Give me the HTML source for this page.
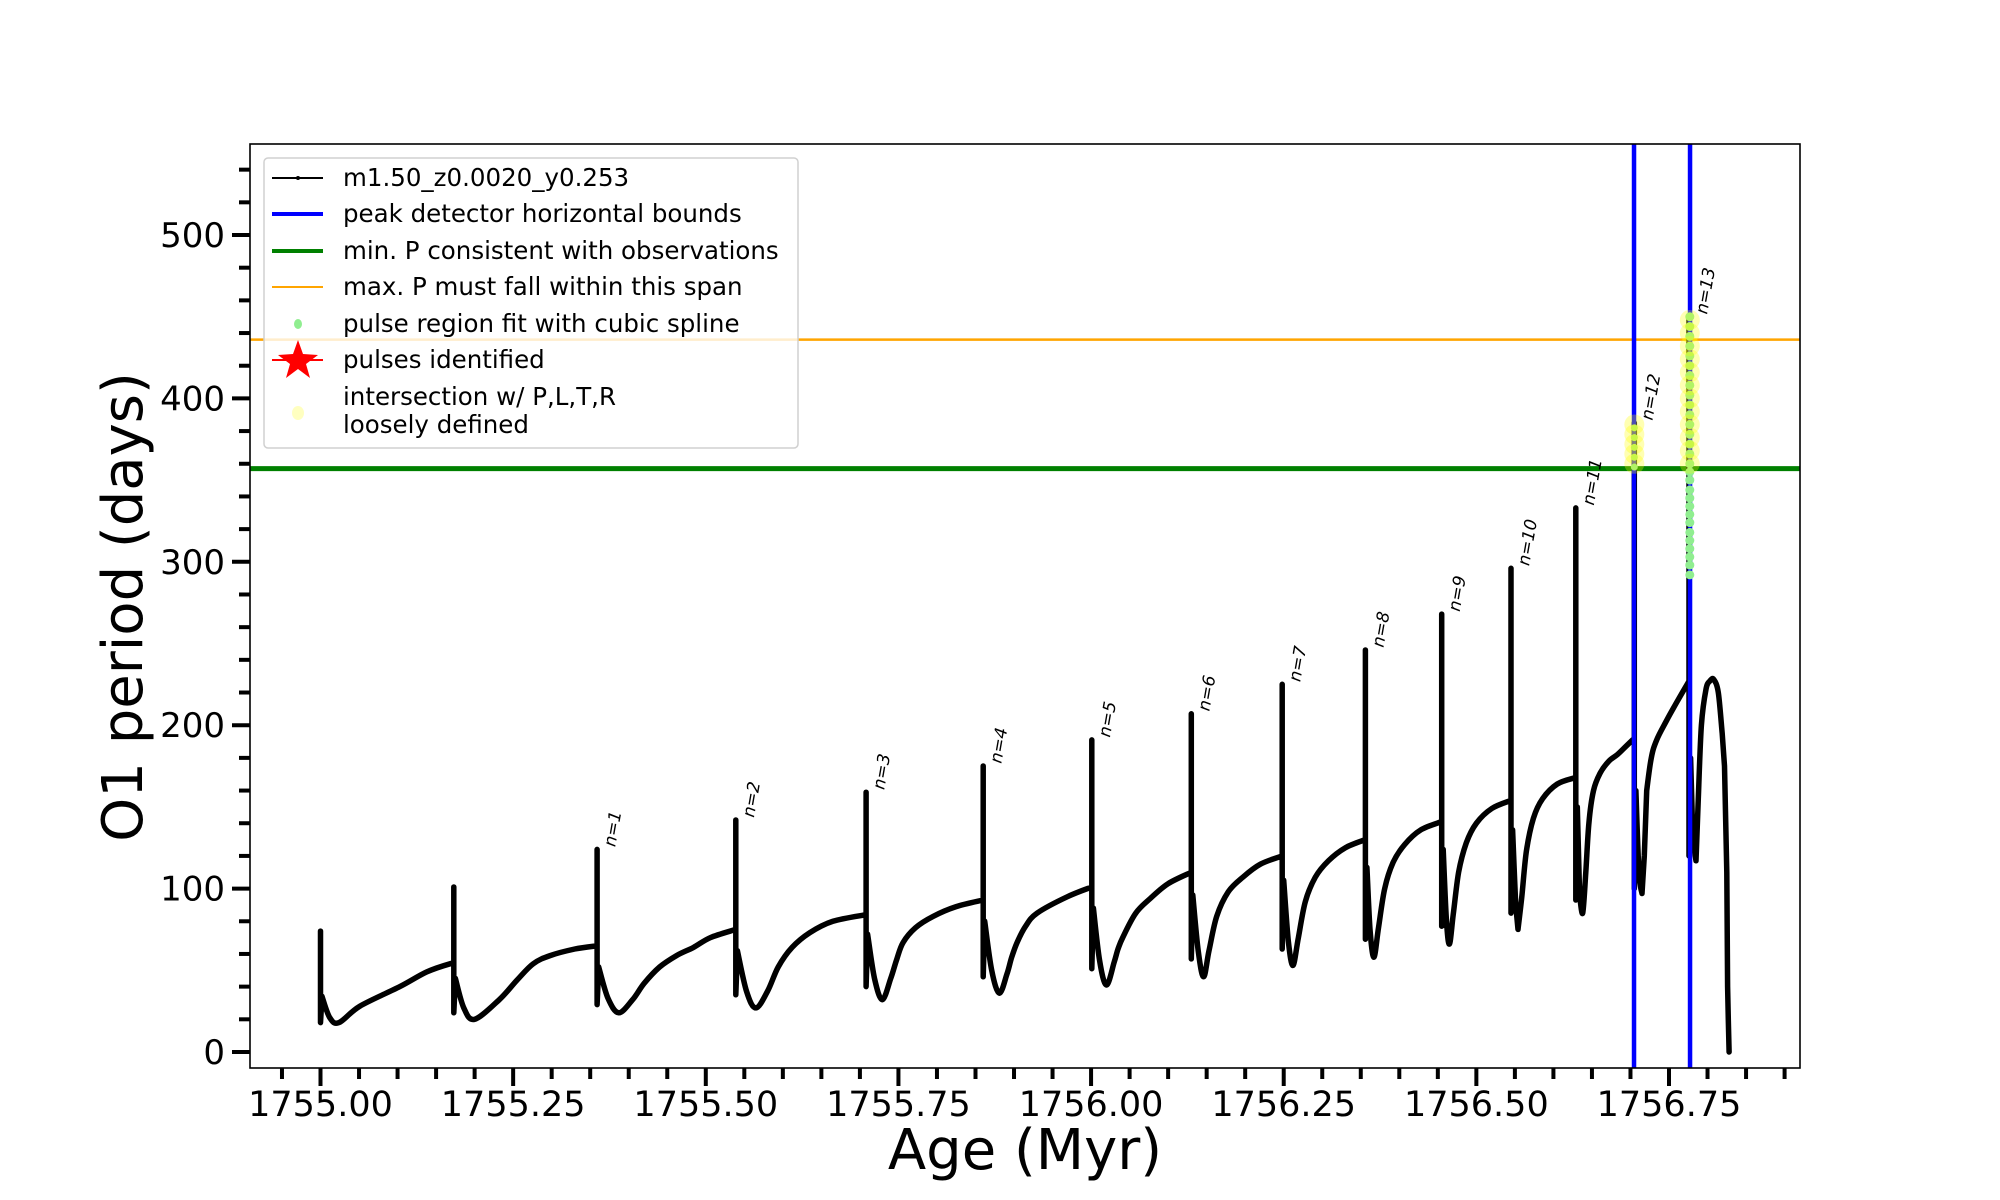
<!DOCTYPE html>
<html><head><meta charset="utf-8"><style>
html,body{margin:0;padding:0;background:#fff;}
svg{display:block;font-family:"DejaVu Sans","Liberation Sans",sans-serif;}
</style></head><body>
<svg id="chart" width="2000" height="1200" viewBox="0 0 2000 1200">
<rect width="2000" height="1200" fill="#fff"/>
<g id="plot"></g>
</svg>
<script>
// ---- data ----
const ages = [
1755.000,1755.000,1755.000,1755.002,1755.012,1755.024,1755.051,1755.103,1755.138,1755.168,1755.173,
1755.173,1755.173,1755.175,1755.186,1755.200,1755.232,1755.255,1755.276,1755.298,1755.330,1755.359,
1755.359,1755.359,1755.361,1755.373,1755.387,1755.405,1755.420,1755.440,1755.462,1755.484,1755.506,1755.539,
1755.539,1755.539,1755.541,1755.553,1755.565,1755.580,1755.594,1755.612,1755.635,1755.665,1755.708,
1755.708,1755.708,1755.710,1755.719,1755.729,1755.740,1755.748,1755.756,1755.772,1755.795,1755.825,1755.860,
1755.860,1755.860,1755.862,1755.871,1755.881,1755.891,1755.897,1755.904,1755.915,1755.930,1755.969,1756.001,
1756.001,1756.001,1756.003,1756.011,1756.020,1756.030,1756.035,1756.041,1756.058,1756.077,1756.100,1756.130,
1756.130,1756.130,1756.132,1756.139,1756.146,1756.153,1756.163,1756.178,1756.197,1756.220,1756.248,
1756.248,1756.248,1756.250,1756.256,1756.262,1756.269,1756.278,1756.291,1756.308,1756.330,1756.356,
1756.356,1756.356,1756.358,1756.362,1756.367,1756.373,1756.381,1756.392,1756.407,1756.428,1756.455,
1756.455,1756.455,1756.457,1756.461,1756.465,1756.470,1756.477,1756.487,1756.500,1756.520,1756.545,
1756.545,1756.545,1756.547,1756.551,1756.554,1756.559,1756.565,1756.574,1756.586,1756.605,1756.629,
1756.629,1756.629,1756.631,1756.634,1756.638,1756.642,1756.646,1756.652,1756.661,1756.672,1756.683,1756.694,1756.705,
1756.705,1756.705,1756.707,1756.711,1756.715,1756.718,1756.721,1756.727,1756.734,1756.747,1756.760,1756.776,
1756.776,1756.776,1756.778,1756.781,1756.785,1756.788,1756.792,1756.798,1756.803,1756.808,1756.814,1756.819,1756.822,1756.825,1756.826,1756.827,1756.828
];
const periods = [
40,74,18,34,21,18,28,40,49,54,54,
101,24,45,27,20,32,44,54,59,63,65,
124,29,52,33,24,32,42,52,59,64,70,75,
142,35,62,37,27,37,52,64,73,80,84,
159,40,72,45,32,45,57,67,76,83,89,93,
175,46,80,50,36,48,58,67,77,85,95,101,
191,51,88,56,41,55,63,70,85,94,103,110,
207,57,96,62,46,62,83,98,107,115,120,
225,63,105,68,53,70,92,107,117,125,130,
246,69,113,75,58,76,100,116,127,136,141,
268,77,124,82,66,84,110,128,140,149,154,
296,85,136,90,75,95,123,143,155,164,168,
333,93,150,96,85,110,140,160,171,178,182,187,192,
385,100,160,110,97,120,160,180,191,203,214,227,
450,120,180,130,117,155,200,222,227,228,220,195,175,110,40,20,0
];
const boundAges = [1756.7046, 1756.7773];
const minPeriod = [357];
const maxPeriod = [436];
const pulseLabels = ["n=1","n=2","n=3","n=4","n=5","n=6","n=7","n=8","n=9","n=10","n=11","n=12","n=13"];
const pulseAges = [1755.359,1755.539,1755.708,1755.860,1756.001,1756.130,1756.248,1756.356,1756.455,1756.545,1756.629,1756.705,1756.776];
const pulsePeaks = [124,142,159,175,191,207,225,246,268,296,333,385,450];
const splineAges12 = [1756.705];
const splineVals12 = [358,364,370,376,382];
const splineAges13 = [1756.777];
const splineVals13 = [292,298,303,308,313,318,324,329,334,339,344,350,355,360,366,372,378,384,390,396,402,408,414,420,426,432,438,444,450];
const yellowVals12 = [360,366,372,378,384];
const yellowVals13 = [360,368,376,384,392,400,408,416,424,432,440,448];
const xMajorTicks = [1755.00,1755.25,1755.50,1755.75,1756.00,1756.25,1756.50,1756.75];
const xMajorLabels = ["1755.00","1755.25","1755.50","1755.75","1756.00","1756.25","1756.50","1756.75"];
const yMajorTicks = [0,100,200,300,400,500];
const yMajorLabels = ["0","100","200","300","400","500"];

// ---- axes ----
const L=250,R=1800,T=144,B=1068;
const X0=1754.9085,X1=1756.920,Y0=-9.8,Y1=555.7;
const sx=v=>L+(v-X0)/(X1-X0)*(R-L);
const sy=v=>B-(v-Y0)/(Y1-Y0)*(B-T);
const NS="http://www.w3.org/2000/svg";
const g=document.getElementById('plot');
function mk(tag,attrs,parent){const e=document.createElementNS(NS,tag);for(const k in attrs)e.setAttribute(k,attrs[k]);(parent||g).appendChild(e);return e;}

// horizontal reference lines
minPeriod.forEach(v=>{const e=mk('line',{x1:L,x2:R,y1:sy(v),y2:sy(v),stroke:'#008000','stroke-width':5});

});
maxPeriod.forEach(v=>{const e=mk('line',{x1:L,x2:R,y1:sy(v),y2:sy(v),stroke:'#ffa500','stroke-width':2.5});

});

// main curve (smoothed, vertical spikes kept straight)
const P=ages.map((a,i)=>[sx(a),sy(periods[i])]);
const vert=i=>Math.abs(P[i+1][0]-P[i][0])<3;
let d='M'+P[0][0].toFixed(1)+' '+P[0][1].toFixed(1);
for(let i=0;i<P.length-1;i++){
  const p1=P[i],p2=P[i+1];
  if(vert(i)){d+='L'+p2[0].toFixed(1)+' '+p2[1].toFixed(1);continue;}
  const p0=(i>0&&!vert(i-1))?P[i-1]:p1;
  const p3=(i+2<P.length&&!vert(i+1))?P[i+2]:p2;
  const c1=[p1[0]+(p2[0]-p0[0])/6,p1[1]+(p2[1]-p0[1])/6];
  const c2=[p2[0]-(p3[0]-p1[0])/6,p2[1]-(p3[1]-p1[1])/6];
  d+='C'+c1[0].toFixed(1)+' '+c1[1].toFixed(1)+' '+c2[0].toFixed(1)+' '+c2[1].toFixed(1)+' '+p2[0].toFixed(1)+' '+p2[1].toFixed(1);
}
const curve=mk('path',{d:d,fill:'none',stroke:'#000','stroke-width':5.5,'stroke-linejoin':'round','stroke-linecap':'round'});



// blue bounds
boundAges.forEach((a,i)=>{const e=mk('line',{x1:sx(a),x2:sx(a),y1:T,y2:B,stroke:'#0000ff','stroke-width':4.5});

});

// spline dots and yellow circles
splineVals12.forEach(v=>{const e=mk('circle',{cx:sx(splineAges12[0]),cy:sy(v),r:3.5,fill:'#90ee90'});

});
splineVals13.forEach(v=>{const e=mk('circle',{cx:sx(splineAges13[0]),cy:sy(v),r:4.5,fill:'#90ee90'});

});
yellowVals12.forEach(v=>{const e=mk('circle',{cx:sx(splineAges12[0]),cy:sy(v),r:10,fill:'#ffff00','fill-opacity':0.3});

});
yellowVals13.forEach(v=>{const e=mk('circle',{cx:sx(splineAges13[0]),cy:sy(v),r:10,fill:'#ffff00','fill-opacity':0.3});

});

// pulse labels
pulseLabels.forEach((t,i)=>{const x=sx(pulseAges[i])+18,y=sy(pulsePeaks[i])-2;
const e=mk('text',{x:0,y:0,transform:`translate(${x},${y}) rotate(-80)`,'font-size':17,'font-style':'italic',fill:'#000'});
e.textContent=t;

});

// frame
const fr=mk('rect',{x:L,y:T,width:R-L,height:B-T,fill:'none',stroke:'#000','stroke-width':1.6});



// x ticks
for(let k=-1;k<=39;k++){const v=1755+k*0.05;if(v>X1)break;const major=(k%5===0);
const e=mk('line',{x1:sx(v),x2:sx(v),y1:B,y2:B+(major?18:11),stroke:'#000','stroke-width':4});

}
xMajorTicks.forEach((v,i)=>{const e=mk('text',{x:sx(v),y:1116,'font-size':35,'text-anchor':'middle',fill:'#000'});
e.textContent=xMajorLabels[i];

});
// y ticks
for(let v=0;v<=540;v+=20){const major=(v%100===0);
const e=mk('line',{x1:L-(major?18:11),x2:L,y1:sy(v),y2:sy(v),stroke:'#000','stroke-width':4});

}
yMajorTicks.forEach((v,i)=>{const e=mk('text',{x:225,y:sy(v)+12,'font-size':34,'text-anchor':'end',fill:'#000'});
e.textContent=yMajorLabels[i];

});
</script>
<svg width="2000" height="1200" style="position:absolute;left:0;top:0">
<text x="1025" y="1169" font-size="56" text-anchor="middle" font-family="DejaVu Sans, Liberation Sans, sans-serif">Age (Myr)</text>
<text transform="translate(142,607) rotate(-90)" font-size="56" text-anchor="middle" font-family="DejaVu Sans, Liberation Sans, sans-serif">O1 period (days)</text>
<g font-family="DejaVu Sans, Liberation Sans, sans-serif" font-size="24.5">
<rect x="264" y="158" width="534" height="290" rx="4" fill="#fff" fill-opacity="0.8" stroke="#d0d0d0" stroke-width="1.5"/>
<g><line x1="272" x2="323" y1="178" y2="178" stroke="#000" stroke-width="2"/><circle cx="298" cy="178" r="2" fill="#000"/><text x="343" y="186">m1.50_z0.0020_y0.253</text></g>
<g><line x1="272" x2="323" y1="214" y2="214" stroke="#0000ff" stroke-width="4"/><text x="343" y="222">peak detector horizontal bounds</text></g>
<g><line x1="272" x2="323" y1="251" y2="251" stroke="#008000" stroke-width="4"/><text x="343" y="259">min. P consistent with observations</text></g>
<g><line x1="272" x2="323" y1="287" y2="287" stroke="#ffa500" stroke-width="2"/><text x="343" y="295">max. P must fall within this span</text></g>
<g><ellipse cx="298" cy="324" rx="4" ry="5" fill="#90ee90"/><text x="343" y="332">pulse region fit with cubic spline</text></g>
<g><line x1="272" x2="323" y1="360" y2="360" stroke="#ff0000" stroke-width="2"/><polygon points="298,340 303,354 318,355 306,364 310,378 298,369 286,378 290,364 278,355 293,354" fill="#ff0000"/><text x="343" y="368">pulses identified</text></g>
<g><ellipse cx="298" cy="413" rx="6" ry="7" fill="#ffffc0"/><text x="343" y="405">intersection w/ P,L,T,R</text><text x="343" y="433">loosely defined</text></g>
</g>
</svg>
</body></html>
